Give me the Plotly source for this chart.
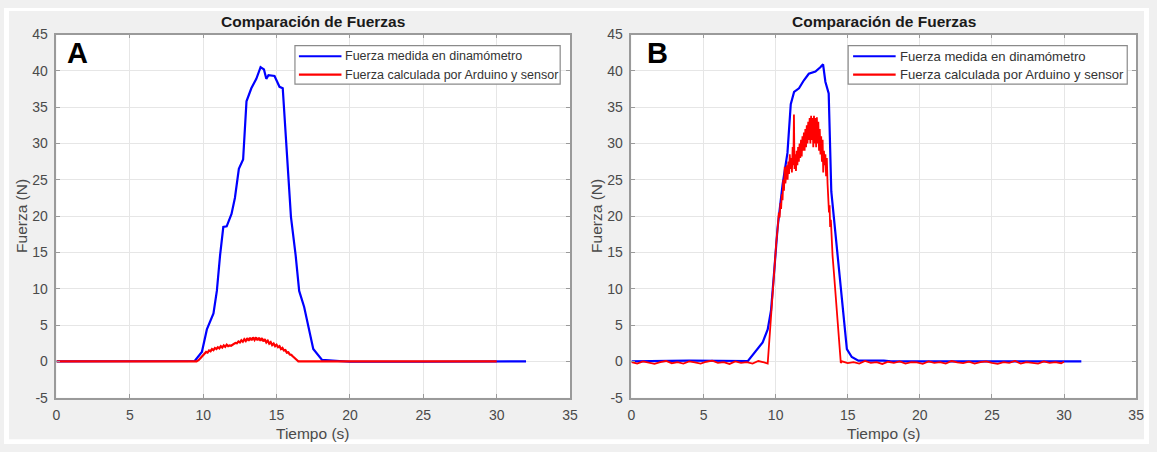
import plotly.graph_objects as go

# ---------------- DATA ----------------
# Panel A
t_blue_A = [0.0, 9.42, 9.91, 10.25, 10.7, 10.93, 11.15, 11.37, 11.6, 11.93, 12.16, 12.43, 12.72,
            12.95, 13.28, 13.62, 13.91, 14.0, 14.14, 14.3, 14.45, 14.86, 15.2, 15.42, 15.58, 15.76,
            15.98, 16.3, 16.54, 16.88, 17.22, 17.5, 18.1, 18.9, 20.0, 25.0, 32.0]
f_blue_A = [0.0, 0.05, 1.3, 4.4, 6.6, 9.7, 14.6, 18.5, 18.6, 20.3, 22.5, 26.5, 27.8,
            35.8, 37.6, 38.9, 40.5, 40.4, 40.2, 38.9, 39.4, 39.3, 37.8, 37.6, 32.3, 25.6,
            19.9, 14.6, 9.7, 7.5, 4.4, 1.7, 0.2, 0.1, -0.05, -0.05, 0.0]

t_red_A = [0.0, 9.55, 9.7, 9.85, 10.0, 10.1, 10.2, 10.3, 10.4, 10.5, 10.6, 10.7, 10.8, 10.9,
           11.0, 11.1, 11.2, 11.3, 11.4, 11.5, 11.6, 11.7, 11.8, 11.9, 12.0, 12.1, 12.2, 12.3,
           12.4, 12.5, 12.6, 12.7, 12.8, 12.9, 13.0, 13.1, 13.2, 13.3, 13.4, 13.5, 13.6, 13.7,
           13.8, 13.9, 14.0, 14.1, 14.2, 14.3, 14.4, 14.5, 14.6, 14.7, 14.8, 14.9, 15.0, 15.1,
           15.2, 15.3, 15.4, 15.5, 15.6, 15.7, 15.8, 15.9, 16.0, 16.1, 16.2, 16.3, 16.4, 16.48, 30.0]
f_red_A = [0.0, 0.0, 0.2, 0.55, 0.85, 1.0, 1.3, 1.2, 1.5, 1.4, 1.7, 1.55, 1.85, 1.7,
           1.95, 1.8, 2.1, 1.9, 2.2, 2.0, 2.3, 2.1, 2.2, 2.15, 2.3, 2.4, 2.55, 2.5,
           2.75, 2.6, 2.9, 2.7, 3.05, 2.8, 3.2, 2.85, 3.25, 2.9, 3.3, 2.95, 3.3, 2.9,
           3.25, 2.85, 3.2, 2.75, 3.05, 2.6, 2.85, 2.45, 2.65, 2.25, 2.45, 2.1, 2.3, 1.95,
           2.1, 1.7, 1.85, 1.5, 1.55, 1.2, 1.25, 0.95, 0.9, 0.7, 0.55, 0.35, 0.15, 0.0, 0.0]

# Panel B
t_blue_B = [0.0, 4.0, 8.08, 8.65, 9.1, 9.45, 9.68, 9.9, 10.14, 10.48, 10.82, 11.05, 11.28, 11.62,
            11.96, 12.3, 12.76, 13.1, 13.29, 13.45, 13.68, 13.86, 14.14, 14.48, 14.71, 14.94,
            15.28, 15.74, 17.5, 18.0, 31.2]
f_blue_B = [0.0, 0.1, 0.05, 1.5, 2.6, 4.4, 7.0, 12.4, 18.5, 24.3, 28.7, 35.4, 37.1, 37.6,
            38.7, 39.6, 39.9, 40.5, 40.9, 38.5, 36.9, 23.4, 17.7, 11.5, 6.6, 1.7,
            0.6, 0.1, 0.1, 0.0, 0.0]

t_red_B_pre = [0.0, 0.4, 0.8, 1.2, 1.6, 2.0, 2.4, 2.8, 3.2, 3.6, 4.0, 4.4, 4.8, 5.2, 5.6, 6.0,
               6.4, 6.8, 7.2, 7.6, 8.0, 8.4, 8.8, 9.2]
f_red_B_pre = [-0.1, -0.3, 0.0, -0.2, -0.35, -0.1, 0.05, -0.25, -0.1, -0.3, 0.0, -0.15, -0.3,
               -0.05, 0.1, -0.2, -0.1, -0.35, 0.0, -0.2, -0.1, -0.3, 0.05, -0.15]

t_red_B_peak = [9.4, 9.45, 9.55, 9.65, 9.75, 9.85, 9.95, 10.05, 10.15, 10.22, 10.28, 10.33, 10.38,
                10.43, 10.48, 10.53, 10.58, 10.63, 10.68, 10.73, 10.78, 10.83, 10.88, 10.93, 10.98,
                11.03, 11.08, 11.13, 11.18, 11.23, 11.27, 11.31, 11.36, 11.41, 11.46, 11.51, 11.56,
                11.61, 11.66, 11.71, 11.76, 11.81, 11.86, 11.91, 11.96, 12.01, 12.06, 12.11, 12.16,
                12.21, 12.26, 12.31, 12.36, 12.41, 12.46, 12.51, 12.56, 12.61, 12.66, 12.71, 12.76,
                12.81, 12.86, 12.91, 12.96, 13.01, 13.06, 13.11, 13.16, 13.21, 13.26, 13.3, 13.35,
                13.4, 13.45, 13.5, 13.55, 13.6, 13.65, 13.7, 13.74, 13.78, 13.83, 13.88, 13.95,
                14.05, 14.15, 14.25, 14.35, 14.45, 14.52]
f_red_B_peak = [-0.2, -0.3, 2.5, 5.5, 8.5, 11.5, 14.0, 16.5, 18.5, 20.5, 19.8, 21.8, 21.0,
                23.0, 22.2, 25.0, 23.5, 26.8, 24.5, 25.5, 27.0, 25.0, 27.5, 25.8, 28.5,
                26.5, 28.0, 26.0, 29.5, 27.0, 34.0, 26.5, 28.5, 26.2, 29.0, 27.0, 29.5,
                27.5, 30.0, 28.0, 30.5, 28.2, 31.0, 29.0, 31.5, 29.0, 32.0, 29.5, 32.5,
                30.0, 33.0, 30.5, 33.5, 30.0, 33.8, 30.5, 33.5, 29.5, 33.8, 30.0, 33.5,
                29.5, 33.6, 30.0, 33.0, 29.0, 32.0, 28.5, 31.0, 27.5, 30.5, 26.0, 29.0,
                27.0, 28.5, 25.5, 28.0, 24.5, 22.0, 20.5, 21.5, 18.5, 19.5, 16.5, 14.5,
                12.0, 9.5, 7.0, 4.5, 2.0, -0.2]

t_red_B_post = [14.6, 15.0, 15.4, 15.8, 16.2, 16.6, 17.0, 17.4, 17.8, 18.2, 18.6, 19.0, 19.4,
                19.8, 20.2, 20.6, 21.0, 21.4, 21.8, 22.2, 22.6, 23.0, 23.4, 23.8, 24.2, 24.6,
                25.0, 25.4, 25.8, 26.2, 26.6, 27.0, 27.4, 27.8, 28.2, 28.6, 29.0, 29.4, 29.8, 30.0]
f_red_B_post = [0.0, -0.25, -0.1, -0.3, 0.05, -0.2, -0.1, -0.35, -0.05, -0.2,
                0.0, -0.3, -0.1, -0.15, -0.35, 0.0, -0.2, -0.1, -0.3, 0.05,
                -0.15, -0.25, -0.05, -0.3, -0.1, 0.0, -0.2, -0.35, -0.1, -0.2,
                0.05, -0.3, -0.1, -0.15, -0.3, 0.0, -0.2, -0.1, -0.25, -0.05]

t_red_B = t_red_B_pre + t_red_B_peak + t_red_B_post
f_red_B = f_red_B_pre + f_red_B_peak + f_red_B_post

x_tick_vals = [0, 5, 10, 15, 20, 25, 30, 35]
x_tick_text = ["0", "5", "10", "15", "20", "25", "30", "35"]
y_tick_vals = [-5, 0, 5, 10, 15, 20, 25, 30, 35, 40, 45]
y_tick_text = ["-5", "0", "5", "10", "15", "20", "25", "30", "35", "40", "45"]

name_blue = "Fuerza medida en dinamómetro"
name_red = "Fuerza calculada por Arduino y sensor"
title_text = "Comparación de Fuerzas"
x_title = "Tiempo (s)"
y_title = "Fuerza (N)"
panel_labels = ["A", "B"]

# ---------------- FIGURE ----------------
W, H = 1157, 452
FONT = "Liberation Sans, Arial, sans-serif"
BLUE = "#0000ff"
RED = "#ff0000"
AX = "#9a9a9a"
TXT = "#4a4a4a"


def px(x):  # window pixel -> paper fraction
    return x / W


def py(y):
    return 1 - y / H


fig = go.Figure()
fig.add_trace(go.Scatter(x=t_blue_A, y=f_blue_A, mode="lines", name=name_blue,
                         line=dict(color=BLUE, width=2.2), xaxis="x", yaxis="y"))
fig.add_trace(go.Scatter(x=t_red_A, y=f_red_A, mode="lines", name=name_red,
                         line=dict(color=RED, width=2.2), xaxis="x", yaxis="y"))
fig.add_trace(go.Scatter(x=t_blue_B, y=f_blue_B, mode="lines", name=name_blue,
                         line=dict(color=BLUE, width=2.2), xaxis="x2", yaxis="y2"))
fig.add_trace(go.Scatter(x=t_red_B, y=f_red_B, mode="lines", name=name_red,
                         line=dict(color=RED, width=1.8), xaxis="x2", yaxis="y2"))

# pixel geometry (window coordinates) of the two axes boxes
panels = [dict(l=53, r=572, letter_x=74, leg_l=294, leg_r=562, leg_font=12.5, leg_line=(298, 341)),
          dict(l=634, r=1144, letter_x=660, leg_l=853, leg_r=1135, leg_font=13.1, leg_line=(858, 901))]
TOP, BOT = 27.5, 404

axis_common = dict(showline=True, linecolor=AX, linewidth=1.5, mirror="ticks",
                   ticks="inside", ticklen=4, tickcolor=AX, showgrid=True,
                   gridcolor="#e6e6e6", gridwidth=1, zeroline=False,
                   tickfont=dict(family=FONT, size=14, color=TXT))

xcommon = dict(axis_common, range=[0, 35], tickvals=x_tick_vals, ticktext=x_tick_text,
               ticklabelstandoff=4)
ycommon = dict(axis_common, range=[-5, 45], tickvals=y_tick_vals, ticktext=y_tick_text,
               ticklabelstandoff=4)

fig.update_layout(
    width=W, height=H, autosize=False,
    margin=dict(l=0, r=0, t=0, b=0),
    paper_bgcolor="#f0f0f0", plot_bgcolor="white",
    xaxis=dict(xcommon, domain=[px(panels[0]["l"]), px(panels[0]["r"])], anchor="y"),
    yaxis=dict(ycommon, domain=[py(BOT), py(TOP)], anchor="x"),
    xaxis2=dict(xcommon, domain=[px(panels[1]["l"]), px(panels[1]["r"])], anchor="y2"),
    yaxis2=dict(ycommon, domain=[py(BOT), py(TOP)], anchor="x2"),
    showlegend=False,
)

# thin white border around the grey figure area
for x0, x1, y0, y1 in [(0, 5, 0, H), (1152, W, 0, H), (0, W, 0, 3), (0, W, 447, H)]:
    fig.add_shape(type="rect", xref="paper", yref="paper",
                  x0=px(x0), x1=px(x1), y0=py(y1), y1=py(y0),
                  fillcolor="white", line=dict(width=0), layer="below")

for p, lab in zip(panels, panel_labels):
    cx = (p["l"] + p["r"]) / 2
    # title
    fig.add_annotation(text="<b>" + title_text + "</b>", xref="paper", yref="paper",
                       x=px(cx), y=py(14), showarrow=False, xanchor="center", yanchor="middle",
                       font=dict(family=FONT, size=15.5, color="#1a1a1a"))
    # axis titles
    fig.add_annotation(text=x_title, xref="paper", yref="paper",
                       x=px(cx), y=py(441), showarrow=False, xanchor="center", yanchor="middle",
                       font=dict(family=FONT, size=15.5, color=TXT))
    fig.add_annotation(text=y_title, xref="paper", yref="paper", textangle=-90,
                       x=px(p["l"] - 36), y=py((TOP + BOT) / 2), showarrow=False,
                       xanchor="center", yanchor="middle",
                       font=dict(family=FONT, size=15.5, color=TXT))
    # panel letter
    fig.add_annotation(text="<b>" + lab + "</b>", xref="paper", yref="paper",
                       x=px(p["letter_x"]), y=py(47), showarrow=False, xanchor="center",
                       yanchor="middle", font=dict(family=FONT, size=29, color="black"))
    # legend box
    fig.add_shape(type="rect", xref="paper", yref="paper",
                  x0=px(p["leg_l"]), x1=px(p["leg_r"]), y0=py(79), y1=py(39),
                  fillcolor="white", line=dict(color="#8a8a8a", width=1.2), layer="above")
    for yy, col, name in [(50, BLUE, name_blue), (69, RED, name_red)]:
        fig.add_shape(type="line", xref="paper", yref="paper",
                      x0=px(p["leg_line"][0]), x1=px(p["leg_line"][1]), y0=py(yy), y1=py(yy),
                      line=dict(color=col, width=2.2), layer="above")
        fig.add_annotation(text=name, xref="paper", yref="paper",
                           x=px(p["leg_line"][1] + 2), y=py(yy), showarrow=False,
                           xanchor="left", yanchor="middle",
                           font=dict(family=FONT, size=p["leg_font"], color="#333333"))

fig.write_html("out.html")
